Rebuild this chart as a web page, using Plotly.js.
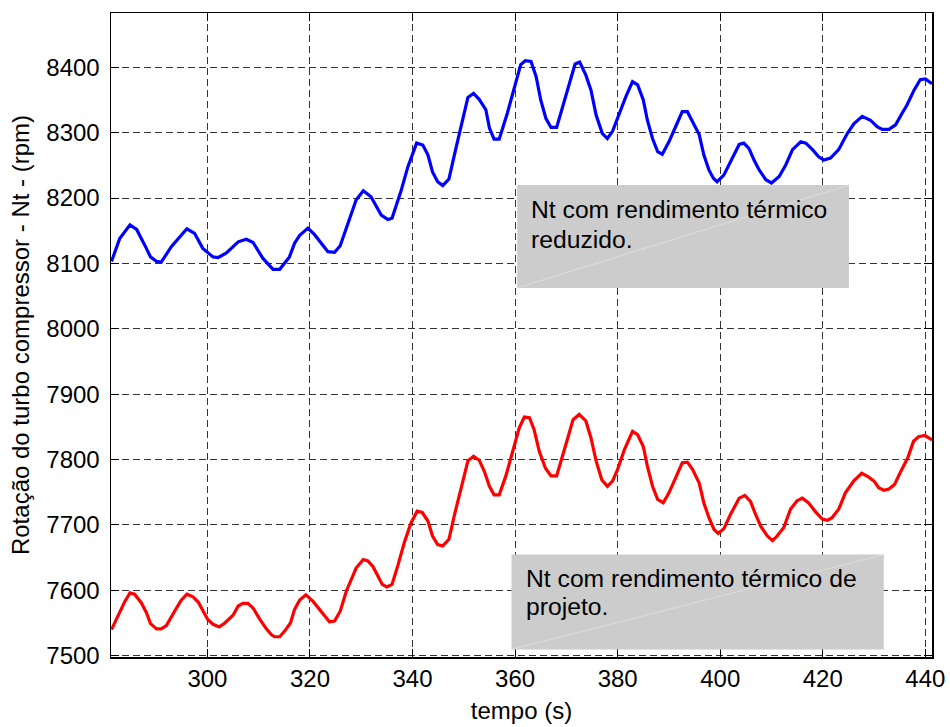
<!DOCTYPE html>
<html>
<head>
<meta charset="utf-8">
<script src="https://cdn.plot.ly/plotly-3.0.1.min.js"></script>
<style>html,body{margin:0;padding:0;background:#fff;}</style>
</head>
<body>
<div id="chart" style="width:950px;height:727px;"></div>
<script>
// Time (s) and rotation (rpm) for "Nt com rendimento térmico reduzido" (blue)
const blueT = [281.3,282.9,284.9,286.2,288.1,288.9,290.1,291.0,293.0,296.0,
297.5,299.1,301.1,302.1,303.7,306.0,307.6,308.9,310.8,312.1,
312.8,314.1,316.0,317.0,318.0,319.6,320.9,323.5,324.8,325.9,
327.1,329.0,330.4,331.9,333.9,335.2,336.0,337.8,339.1,340.8,
342.0,343.0,343.9,344.9,345.9,347.1,348.4,349.5,350.8,351.9,
353.0,354.3,355.0,355.9,356.9,358.5,360.2,361.1,362.0,
363.1,364.1,365.0,366.0,367.0,368.1,369.3,370.6,371.7,372.6,
373.8,374.8,375.8,377.0,378.0,379.0,380.3,381.6,382.9,383.9,
385.0,385.8,386.8,387.8,388.7,390.0,391.3,392.6,393.6,394.6,
395.9,396.8,397.8,398.7,399.4,400.7,402.4,403.7,404.6,405.6,
406.6,407.6,408.9,410.0,411.5,412.8,414.1,415.7,416.7,418.0,
419.2,420.2,421.5,423.1,424.8,426.1,427.7,429.3,430.6,431.6,
432.9,434.2,435.5,436.4,437.8,439.0,440.0,441.3];
const blueV = [8103,8138,8159,8152,8123,8110,8103,8102,8126,8153,
8146,8123,8110,8109,8116,8133,8137,8132,8108,8098,
8091,8091,8110,8131,8143,8154,8144,8118,8117,8127,
8154,8197,8211,8202,8174,8167,8169,8212,8248,8284,
8281,8266,8240,8225,8219,8229,8274,8312,8354,8360,
8351,8335,8307,8290,8290,8330,8381,8404,8410,
8409,8386,8350,8322,8308,8308,8340,8376,8405,8408,
8388,8365,8327,8299,8291,8302,8330,8355,8378,8373,
8350,8319,8291,8271,8267,8286,8309,8332,8332,8317,
8297,8266,8243,8230,8225,8235,8261,8282,8284,8276,
8258,8243,8228,8223,8233,8251,8274,8286,8284,8274,
8263,8258,8261,8274,8299,8314,8325,8319,8309,8305,
8305,8312,8330,8342,8365,8381,8382,8375];

// Time (s) and rotation (rpm) for "Nt com rendimento térmico de projeto" (red)
const redT = [281.3,282.6,283.9,284.9,285.8,287.1,288.1,288.9,290.1,291.0,
292.0,293.6,294.9,296.0,297.2,298.2,299.2,300.1,301.1,302.3,
303.4,305.0,306.0,306.9,307.9,308.9,310.2,311.5,312.5,313.1,
314.1,315.1,316.2,317.0,318.0,319.2,320.6,322.2,323.8,324.8,
325.9,327.1,328.0,329.0,330.4,331.3,332.3,333.2,334.1,335.0,
336.0,337.1,338.4,339.7,340.9,341.9,343.0,343.9,344.9,345.9,
347.1,348.2,349.5,350.8,351.9,353.0,354.0,355.0,355.9,356.9,
358.2,359.5,360.8,361.8,
362.8,363.7,364.7,365.9,367.0,368.1,369.1,370.2,371.3,372.5,
373.8,374.8,375.8,376.9,378.0,379.0,380.0,381.3,382.9,383.9,
385.0,385.8,386.8,387.8,388.9,390.0,391.3,392.6,393.6,394.6,
395.9,396.8,397.8,398.8,399.6,400.7,402.0,403.7,404.8,405.9,
406.9,407.9,409.2,410.2,411.1,412.4,413.7,415.0,416.0,417.2,
418.6,419.9,420.9,421.8,423.1,424.4,426.1,427.6,428.8,430.0,
430.9,431.9,432.9,434.0,435.1,436.6,437.7,438.7,439.9,441.3];
const redV = [7540,7563,7583,7596,7594,7581,7566,7549,7541,7541,
7546,7568,7585,7594,7590,7582,7568,7555,7548,7544,
7550,7562,7576,7580,7580,7573,7556,7541,7532,7529,
7529,7538,7550,7571,7585,7593,7583,7567,7552,7553,
7568,7599,7617,7634,7647,7645,7636,7622,7609,7605,
7609,7637,7673,7703,7721,7719,7706,7683,7670,7668,
7678,7716,7759,7798,7805,7799,7782,7759,7746,7746,
7775,7813,7848,7865,
7864,7846,7813,7787,7775,7775,7800,7831,7861,7869,
7859,7833,7798,7769,7759,7767,7785,7815,7843,7838,
7820,7790,7759,7739,7734,7749,7772,7795,7796,7785,
7764,7734,7711,7693,7687,7694,7716,7741,7745,7736,
7716,7698,7683,7676,7683,7696,7724,7737,7741,7734,
7720,7709,7707,7711,7724,7749,7768,7779,7774,7767,
7757,7753,7755,7762,7780,7803,7828,7835,7837,7830];

const xTicks = [300,320,340,360,380,400,420,440];
const yTicks = [7500,7600,7700,7800,7900,8000,8100,8200,8300,8400];
const xTitle = 'tempo (s)';
const yTitle = 'Rotação do turbo compressor - Nt - (rpm)';
const box1Lines = ['Nt com rendimento térmico', 'reduzido.'];
const box2Lines = ['Nt com rendimento térmico de', 'projeto.'];

const FONT = 'Liberation Sans, Arial, sans-serif';

const traces = [
  {x: blueT, y: blueV, type: 'scatter', mode: 'lines', line: {color: '#0000ff', width: 3.2}, hoverinfo: 'skip'},
  {x: redT, y: redV, type: 'scatter', mode: 'lines', line: {color: '#ff0000', width: 3.2}, hoverinfo: 'skip'}
];

const axisCommon = {
  showgrid: true, gridcolor: '#333333', gridwidth: 1, griddash: '7px,4px',
  showline: true, linecolor: '#000', linewidth: 1.5, mirror: 'ticks',
  ticks: 'inside', ticklen: 8, tickcolor: '#000', tickwidth: 1,
  zeroline: false, tickfont: {family: FONT, size: 24, color: '#000'}
};

const layout = {
  width: 950, height: 727,
  margin: {l: 111, r: 18, t: 13, b: 70, pad: 0},
  paper_bgcolor: '#fff', plot_bgcolor: '#fff',
  showlegend: false,
  font: {family: FONT, size: 24, color: '#000'},
  xaxis: Object.assign({}, axisCommon, {
    range: [281.2, 441.3], tickvals: xTicks, ticktext: xTicks.map(String),
    title: {text: xTitle, font: {family: FONT, size: 24, color: '#000'}, standoff: 11}
  }),
  yaxis: Object.assign({}, axisCommon, {
    range: [7498, 8483], tickvals: yTicks, ticktext: yTicks.map(String),
    ticklabelstandoff: 5,
    title: {text: yTitle, font: {family: FONT, size: 24, color: '#000'}, standoff: 10}
  }),
  shapes: [
    {type: 'rect', xref: 'x', yref: 'y', x0: 360.4, x1: 425.1, y0: 8062.5, y1: 8220,
     fillcolor: '#cccccc', line: {width: 0}, layer: 'above'},
    {type: 'line', xref: 'x', yref: 'y', x0: 360.4, x1: 425.1, y0: 8062.5, y1: 8220,
     line: {color: '#dddddd', width: 1}, layer: 'above'},
    {type: 'rect', xref: 'x', yref: 'y', x0: 359.3, x1: 431.9, y0: 7509.5, y1: 7654.7,
     fillcolor: '#cccccc', line: {width: 0}, layer: 'above'},
    {type: 'line', xref: 'x', yref: 'y', x0: 359.3, x1: 431.9, y0: 7509.5, y1: 7654.7,
     line: {color: '#dddddd', width: 1}, layer: 'above'}
  ],
  annotations: [
    {text: box1Lines[0], x: 362.7, y: 8182.6},
    {text: box1Lines[1], x: 362.7, y: 8136.7},
    {text: box2Lines[0], x: 361.7, y: 7618.8},
    {text: box2Lines[1], x: 361.7, y: 7576}
  ].map(a => Object.assign(a, {xref: 'x', yref: 'y', xanchor: 'left', yanchor: 'middle',
    showarrow: false, font: {family: FONT, size: 24.7, color: '#000'}}))
};

Plotly.newPlot('chart', traces, layout, {staticPlot: true, displayModeBar: false});
</script>
</body>
</html>
